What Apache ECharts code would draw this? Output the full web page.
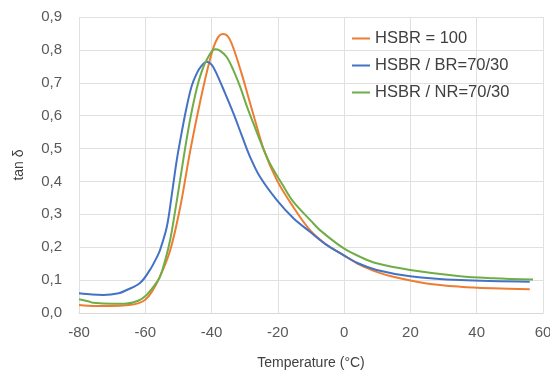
<!DOCTYPE html>
<html><head><meta charset="utf-8">
<script src="https://cdn.jsdelivr.net/npm/echarts@6/dist/echarts.min.js"></script>
<style>html,body{margin:0;padding:0;background:#fff}#c{width:550px;height:372px}</style>
</head><body><div id="c"></div>
<script>
const seriesNames = ['HSBR = 100', 'HSBR / BR=70/30', 'HSBR / NR=70/30'];
const xTicks = [-80, -60, -40, -20, 0, 20, 40, 60];
const yTicks = [0, 0.1, 0.2, 0.3, 0.4, 0.5, 0.6, 0.7, 0.8, 0.9];

const tempHSBR = [-80,-75,-70,-65,-62,-60,-58,-55.6,-52.5,-49.5,-46.5,-43.5,-40.5,-38.5,-36.6,-35,-33.4,-31,-29,-27,-24.2,-20.3,-15.4,-10.3,-5,-1.2,4.8,9.8,14.8,24.9,35,45,56];
const tanHSBR  = [0.024,0.021,0.021,0.024,0.030,0.040,0.065,0.11,0.19,0.32,0.49,0.64,0.77,0.83,0.848,0.84,0.805,0.73,0.66,0.59,0.495,0.404,0.323,0.252,0.205,0.182,0.146,0.125,0.110,0.090,0.080,0.075,0.072];

const tempBR = [-80,-76,-72.7,-68,-65.6,-61.6,-58.6,-56.5,-55.6,-53.5,-52,-50.5,-49,-47.5,-46,-44.5,-43,-41.5,-40,-38.5,-36,-33.4,-30.9,-28.4,-25.4,-20.3,-15.3,-10.3,-5.3,-0.2,4,9.8,19.9,35,56];
const tanBR  = [0.060,0.056,0.055,0.060,0.070,0.091,0.131,0.17,0.19,0.262,0.36,0.465,0.55,0.627,0.69,0.728,0.752,0.764,0.755,0.728,0.67,0.607,0.54,0.475,0.414,0.343,0.288,0.247,0.207,0.176,0.152,0.131,0.112,0.10,0.095];

const tempNR = [-80,-77,-75.7,-70,-65.6,-62,-59.6,-57.5,-55.6,-54,-52.5,-51,-49.5,-48,-46.5,-45,-43.5,-41.5,-39,-37.5,-35.5,-33.5,-31.4,-29.4,-27.4,-24.2,-22.4,-18,-15.3,-10,-7.3,-0.2,5,9.8,19.9,35,45,57];
const tanNR  = [0.042,0.035,0.031,0.028,0.029,0.038,0.055,0.08,0.11,0.16,0.222,0.31,0.404,0.50,0.587,0.66,0.718,0.769,0.802,0.798,0.779,0.74,0.688,0.63,0.577,0.495,0.455,0.38,0.338,0.28,0.252,0.197,0.17,0.151,0.131,0.112,0.106,0.102];

const colors = ['#ED7D31', '#4472C4', '#70AD47'];
const pairs = (xs, ys) => xs.map((x, i) => [x, ys[i]]);
const allData = [pairs(tempHSBR, tanHSBR), pairs(tempBR, tanBR), pairs(tempNR, tanNR)];

const chart = echarts.init(document.getElementById('c'), null, {renderer: 'canvas'});
const font = 'Liberation Sans, Arial, sans-serif';
chart.setOption({
  animation: false,
  color: colors,
  grid: {left: 79, right: 7, top: 17, bottom: 59, containLabel: false, outerBoundsMode: 'none'},
  legend: {
    orient: 'vertical', left: 347, top: 25, itemWidth: 18, itemHeight: 2, itemGap: 10,
    icon: 'rect',
    data: seriesNames,
    textStyle: {fontFamily: font, fontSize: 16.5, color: '#404040', lineHeight: 17}
  },
  xAxis: {
    type: 'value', min: xTicks[0], max: xTicks[xTicks.length - 1], interval: 20,
    name: 'Temperature (°C)', nameLocation: 'middle', nameGap: 43,
    nameTextStyle: {fontFamily: font, fontSize: 14, color: '#404040'},
    axisLine: {show: true, lineStyle: {color: '#d9d9d9'}},
    axisTick: {show: false},
    axisLabel: {fontFamily: font, fontSize: 15, color: '#595959', margin: 12},
    splitLine: {show: true, lineStyle: {color: '#e0e0e0'}}
  },
  yAxis: {
    type: 'value', min: yTicks[0], max: yTicks[yTicks.length - 1], interval: 0.1,
    name: 'tan δ', nameLocation: 'middle', nameGap: 53, nameRotate: 90,
    nameTextStyle: {fontFamily: font, fontSize: 14, color: '#404040'},
    axisLine: {show: false},
    axisTick: {show: false},
    axisLabel: {fontFamily: font, fontSize: 15, color: '#595959', margin: 17,
      formatter: v => v.toFixed(1).replace('.', ',')},
    splitLine: {show: true, lineStyle: {color: '#e0e0e0'}}
  },
  series: seriesNames.map((n, i) => ({
    name: n, type: 'line', data: allData[i], smooth: 0.35, showSymbol: false,
    lineStyle: {width: 2, color: colors[i]}, itemStyle: {color: colors[i]}
  }))
});
</script></body></html>
